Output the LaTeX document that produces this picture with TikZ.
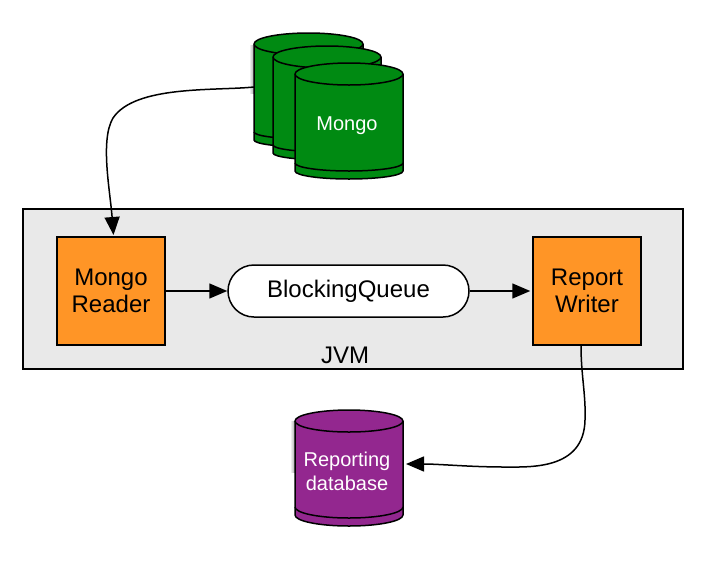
\documentclass[tikz,border=0pt]{standalone}
\usepackage{fontspec}
\setmainfont{Liberation Sans}
\usetikzlibrary{arrows.meta}
\definecolor{mongogreen}{HTML}{008A12}
\definecolor{reportpurple}{HTML}{93278F}
\definecolor{boxorange}{HTML}{FF9526}
\definecolor{jvmgrey}{HTML}{E9E9E9}
\tikzset{
  worker/.style = {draw, line width = 1.5pt, fill = boxorange, minimum width = 108pt, minimum height = 108pt, align = center, font = \fontsize{24}{27}\selectfont},
  flow/.style = {line width = 1.5pt, -{Triangle[length = 18pt, width = 15pt]}},
  dbtext/.style = {white, align = center},
  dbshadow/.style = {left color = white, right color = black!35}
}
% left, right, top of lid, top of band, body colour, bottom radius
\newcommand{\dbdrum}[6]{
  \draw [line width = 1.5pt, fill = #5] (#1, #3 + 11) -- (#1, #4 + 8)
    arc [start angle = 180, end angle = 0, x radius = {(#2 - #1) / 2}, y radius = #6]
    -- (#2, #3 + 11) arc [start angle = 0, end angle = -180, x radius = {(#2 - #1) / 2}, y radius = 11] -- cycle;
  \draw [line width = 1.5pt] (#1, #4) arc [start angle = 180, end angle = 0, x radius = {(#2 - #1) / 2}, y radius = #6];
  \draw [line width = 1.5pt] (#1, #3 + 11) arc [start angle = 180, end angle = 0, x radius = {(#2 - #1) / 2}, y radius = 11];
}
\begin{document}
\begin{tikzpicture}[
        x = 1pt,
        y = -1pt]
      \useasboundingbox (0, 0) rectangle (704, 566);
      \draw [line width = 1.5pt, fill = jvmgrey] (23, 209) rectangle (683, 369);
      \node (jvm) at (345, 355) {\fontsize{24}{27}\selectfont JVM};
      \node [worker] (reader) at (111, 291) {Mongo\\Reader};
      \node [worker] (writer) at (587, 291) {Report\\Writer};
      \node [draw, line width = 1.5pt, fill = white, rounded corners = 26pt, minimum width = 241pt, minimum height = 52pt, font = \fontsize{24}{27}\selectfont] (queue) at (348.5, 291) {BlockingQueue};
      \shade [dbshadow] (249, 45) rectangle (254, 93);
      \dbdrum{254}{363}{33}{132}{mongogreen}{7}
      \dbdrum{273}{381}{46}{145}{mongogreen}{7}
      \dbdrum{295}{403}{63}{163}{mongogreen}{8}
      \node [dbtext, font = \fontsize{20}{24}\selectfont] (mongo) at (347, 125.5) {Mongo};
      \coordinate (mongoleft) at (254, 87);
      \shade [dbshadow] (290, 421) rectangle (295, 472);
      \dbdrum{295}{403}{410}{507}{reportpurple}{11}
      \node [dbtext, font = \fontsize{20}{24}\selectfont] (report) at (347, 471) {Reporting\\database};
      \coordinate (reportright) at (406, 464);
      \draw [flow] (mongoleft) .. controls (215, 91) and (135, 85) .. (113, 118) .. controls (100, 140) and (110, 190) .. (113.5, 235);
      \draw [flow] (reader) ++(54, 0) -- (queue.west);
      \draw [flow, shorten > = 2pt] (queue.east) -- (writer.west);
      \draw [flow] (writer.south) ++(-6, 0) .. controls (581, 375) and (586, 395) .. (585, 420) .. controls (584, 470) and (530, 467) .. (505, 467) .. controls (470, 467) and (440, 464) .. (reportright);
    \end{tikzpicture}
\end{document}
